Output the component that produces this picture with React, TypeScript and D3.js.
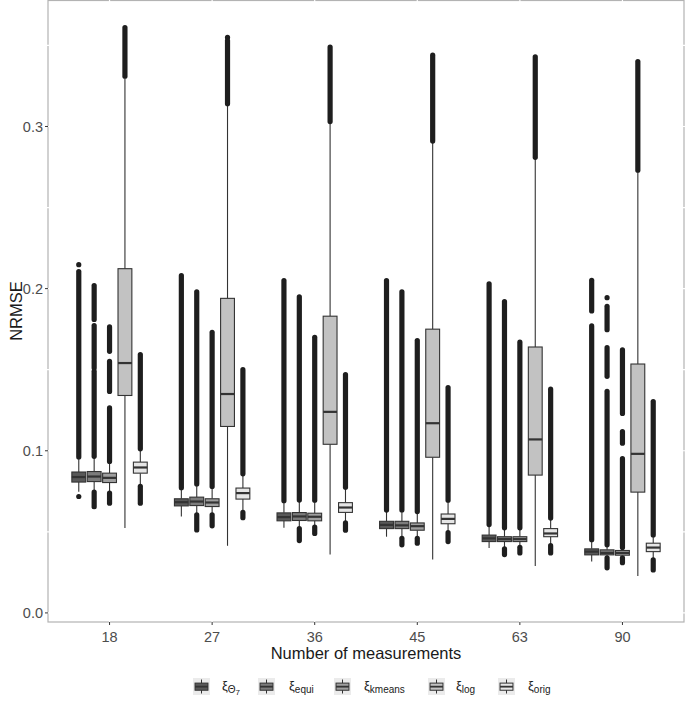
import React from "react";
import * as d3 from "d3";

// ---------- data ----------
const groups = ["18", "27", "36", "45", "63", "90"];
const methods = ["theta7", "equi", "kmeans", "log", "orig"];
const fills = ["#595959", "#7c7c7c", "#9f9f9f", "#c2c2c2", "#e6e6e6"];
const yTicks = [0.0, 0.1, 0.2, 0.3];
const yMinor = [0.05, 0.15, 0.25, 0.35];

// [whiskerLow, q1, median, q3, whiskerHigh] per group
const theta7Stats = [
  [0.0747, 0.0807, 0.0838, 0.0869, 0.0958],
  [0.0594, 0.066, 0.0683, 0.0704, 0.0768],
  [0.0525, 0.0568, 0.0591, 0.0617, 0.0688],
  [0.047, 0.052, 0.0543, 0.0565, 0.063],
  [0.04, 0.044, 0.046, 0.048, 0.054],
  [0.0317, 0.0358, 0.0378, 0.0395, 0.0448],
];
const equiStats = [
  [0.0752, 0.081, 0.0841, 0.0872, 0.0962],
  [0.0612, 0.0662, 0.0687, 0.0714, 0.079],
  [0.0525, 0.057, 0.0595, 0.0619, 0.0692],
  [0.047, 0.052, 0.054, 0.0565, 0.063],
  [0.0405, 0.044, 0.0455, 0.047, 0.052],
  [0.0345, 0.0358, 0.037, 0.0389, 0.0415],
];
const kmeansStats = [
  [0.0745, 0.0804, 0.0833, 0.0862, 0.093],
  [0.0612, 0.0656, 0.0681, 0.0704, 0.077],
  [0.0535, 0.0568, 0.0593, 0.0615, 0.069],
  [0.047, 0.051, 0.0535, 0.0555, 0.062],
  [0.041, 0.044, 0.0455, 0.047, 0.052],
  [0.0345, 0.0356, 0.037, 0.0385, 0.04],
];
const logStats = [
  [0.0523, 0.1341, 0.1541, 0.2123, 0.3296],
  [0.0414, 0.115, 0.135, 0.194, 0.313],
  [0.036, 0.104, 0.124, 0.183, 0.302],
  [0.033, 0.096, 0.117, 0.175, 0.29],
  [0.029, 0.085, 0.107, 0.164, 0.28],
  [0.0228, 0.0745, 0.0981, 0.1535, 0.272],
];
const origStats = [
  [0.0785, 0.0862, 0.0897, 0.093, 0.1005],
  [0.0625, 0.0702, 0.0739, 0.077, 0.0852],
  [0.056, 0.062, 0.065, 0.068, 0.077],
  [0.05, 0.055, 0.058, 0.061, 0.069],
  [0.042, 0.047, 0.049, 0.052, 0.058],
  [0.0335, 0.0378, 0.0403, 0.043, 0.0475],
];

// outlier runs [top, bottom] per group (dense points read as runs)
const theta7Outliers = [
  [[0.2148, 0.2148], [0.2105, 0.0962], [0.0718, 0.0718]],
  [[0.208, 0.0772]],
  [[0.205, 0.0692]],
  [[0.205, 0.0634]],
  [[0.203, 0.0545]],
  [[0.2051, 0.1862], [0.177, 0.0452]],
];
const equiOutliers = [
  [[0.2019, 0.181], [0.1772, 0.151], [0.149, 0.0966], [0.0745, 0.0655]],
  [[0.198, 0.0795], [0.0605, 0.0512]],
  [[0.195, 0.0696], [0.052, 0.0446]],
  [[0.198, 0.0635], [0.046, 0.042]],
  [[0.192, 0.0525], [0.0395, 0.036]],
  [[0.1944, 0.1944], [0.1891, 0.1747], [0.1636, 0.1459], [0.1366, 0.042], [0.034, 0.0278]],
];
const kmeansOutliers = [
  [[0.1764, 0.1613], [0.1551, 0.1366], [0.1264, 0.0934], [0.0739, 0.0677]],
  [[0.173, 0.078], [0.0605, 0.0537]],
  [[0.17, 0.0695], [0.053, 0.049]],
  [[0.168, 0.0625], [0.046, 0.043]],
  [[0.167, 0.0525], [0.0405, 0.037]],
  [[0.1623, 0.123], [0.1119, 0.1047], [0.0951, 0.0404], [0.034, 0.031]],
];
const logOutliers = [
  [[0.361, 0.331]],
  [[0.3549, 0.3549], [0.353, 0.314]],
  [[0.349, 0.303]],
  [[0.344, 0.291]],
  [[0.343, 0.281]],
  [[0.34, 0.273]],
];
const origOutliers = [
  [[0.1593, 0.1012], [0.078, 0.0677]],
  [[0.15, 0.0858], [0.062, 0.0587]],
  [[0.147, 0.0775], [0.0555, 0.051]],
  [[0.139, 0.0695], [0.0495, 0.044]],
  [[0.138, 0.0585], [0.0415, 0.037]],
  [[0.1304, 0.0481], [0.0327, 0.0265]],
];

const allStats = [theta7Stats, equiStats, kmeansStats, logStats, origStats];
const allOutliers = [theta7Outliers, equiOutliers, kmeansOutliers, logOutliers, origOutliers];

// ---------- layout ----------
const W = 685;
const H = 719;
const P = { left: 48, right: 684, top: 0, bottom: 622 };
const FONT = "'Liberation Sans', Arial, Helvetica, sans-serif";

export default function App() {
  const x = d3.scaleLinear().domain([-0.6, groups.length - 1 + 0.6]).range([P.left, P.right]);
  const y = d3.scaleLinear().domain([-0.0056, 0.378]).range([P.bottom, P.top]);
  const unit = x(1) - x(0);
  const dodge = 0.75 / methods.length;
  const boxW = dodge * 0.9 * unit;

  const legendKeyX = [193, 258, 334, 428, 498];
  const legendLabelX = [222, 289, 364, 456, 528];
  const legendY = 678;
  const subs = [["Θ", "7"], ["equi"], ["kmeans"], ["log"], ["orig"]];

  return (
    <svg width={W} height={H} style={{ position: "absolute", left: 0, top: 0, background: "#fff" }} fontFamily={FONT}>
      {/* panel border */}
      <rect x={P.left} y={P.top + 0.5} width={P.right - P.left} height={P.bottom - P.top - 0.5} fill="#fff" stroke="#b3b3b3" strokeWidth={1.2} />
      {/* white grid lines */}
      {yMinor.concat(yTicks).map((v, i) => (
        <line key={"gy" + i} x1={P.left - 1} x2={P.right + 1} y1={y(v)} y2={y(v)} stroke="#fff" strokeWidth={1.2} />
      ))}
      {groups.map((g, i) => (
        <line key={"gx" + i} x1={x(i)} x2={x(i)} y1={P.top - 1} y2={P.bottom + 1} stroke="#fff" strokeWidth={1.2} />
      ))}

      {/* boxes */}
      {methods.map((m, j) =>
        groups.map((g, i) => {
          const cx = x(i + (j - 2) * dodge);
          const [lo, q1, med, q3, hi] = allStats[j][i];
          const outs = allOutliers[j][i];
          return (
            <g key={m + g}>
              <line x1={cx} x2={cx} y1={y(hi)} y2={y(q3)} stroke="#333" strokeWidth={1.1} />
              <line x1={cx} x2={cx} y1={y(q1)} y2={y(lo)} stroke="#333" strokeWidth={1.1} />
              {outs.map((o, k) =>
                o[0] === o[1] ? (
                  <circle key={k} cx={cx} cy={y(o[0])} r={2.6} fill="#1e1e1e" />
                ) : (
                  <line key={k} x1={cx} x2={cx} y1={y(o[0])} y2={y(o[1])} stroke="#1e1e1e" strokeWidth={5.2} strokeLinecap="round" />
                )
              )}
              <rect x={cx - boxW / 2} y={y(q3)} width={boxW} height={y(q1) - y(q3)} fill={fills[j]} stroke="#333" strokeWidth={1.1} />
              <line x1={cx - boxW / 2} x2={cx + boxW / 2} y1={y(med)} y2={y(med)} stroke="#333" strokeWidth={2.2} />
            </g>
          );
        })
      )}

      {/* y axis */}
      {yTicks.map((v) => (
        <g key={"yt" + v}>
          <line x1={P.left - 3} x2={P.left} y1={y(v)} y2={y(v)} stroke="#333" strokeWidth={1} />
          <text x={P.left - 5} y={y(v)} dy="0.35em" textAnchor="end" fontSize={14.5} fill="#4d4d4d">
            {d3.format(".1f")(v)}
          </text>
        </g>
      ))}
      <text transform={`translate(${22},${(P.top + P.bottom) / 2}) rotate(-90)`} textAnchor="middle" fontSize={16.5} fill="#1a1a1a">
        NRMSE
      </text>

      {/* x axis */}
      {groups.map((g, i) => (
        <g key={"xt" + g}>
          <line x1={x(i)} x2={x(i)} y1={P.bottom} y2={P.bottom + 3} stroke="#333" strokeWidth={1} />
          <text x={x(i)} y={P.bottom + 20} textAnchor="middle" fontSize={14.5} fill="#4d4d4d">
            {g}
          </text>
        </g>
      ))}
      <text x={(P.left + P.right) / 2} y={659} textAnchor="middle" fontSize={16.5} fill="#1a1a1a">
        Number of measurements
      </text>

      {/* legend */}
      {methods.map((m, j) => {
        const kx = legendKeyX[j];
        const ky = legendY;
        const s = 17;
        return (
          <g key={"lg" + m}>
            <rect x={kx} y={ky} width={s} height={s} fill="#ebebeb" />
            <line x1={kx + s / 2} x2={kx + s / 2} y1={ky + 1.5} y2={ky + s - 1.5} stroke="#333" strokeWidth={1} />
            <rect x={kx + s * 0.12} y={ky + s * 0.3} width={s * 0.76} height={s * 0.42} fill={fills[j]} stroke="#333" strokeWidth={1} />
            <line x1={kx + s * 0.12} x2={kx + s * 0.88} y1={ky + s * 0.51} y2={ky + s * 0.51} stroke="#333" strokeWidth={1.8} />
            <text x={legendLabelX[j]} y={ky + 12} fontSize={13} fill="#1a1a1a">
              <tspan>ξ</tspan>
              <tspan dy={3} fontSize={10}>{subs[j][0]}</tspan>
              {subs[j][1] ? <tspan dy={2} fontSize={8}>{subs[j][1]}</tspan> : null}
            </text>
          </g>
        );
      })}
    </svg>
  );
}
